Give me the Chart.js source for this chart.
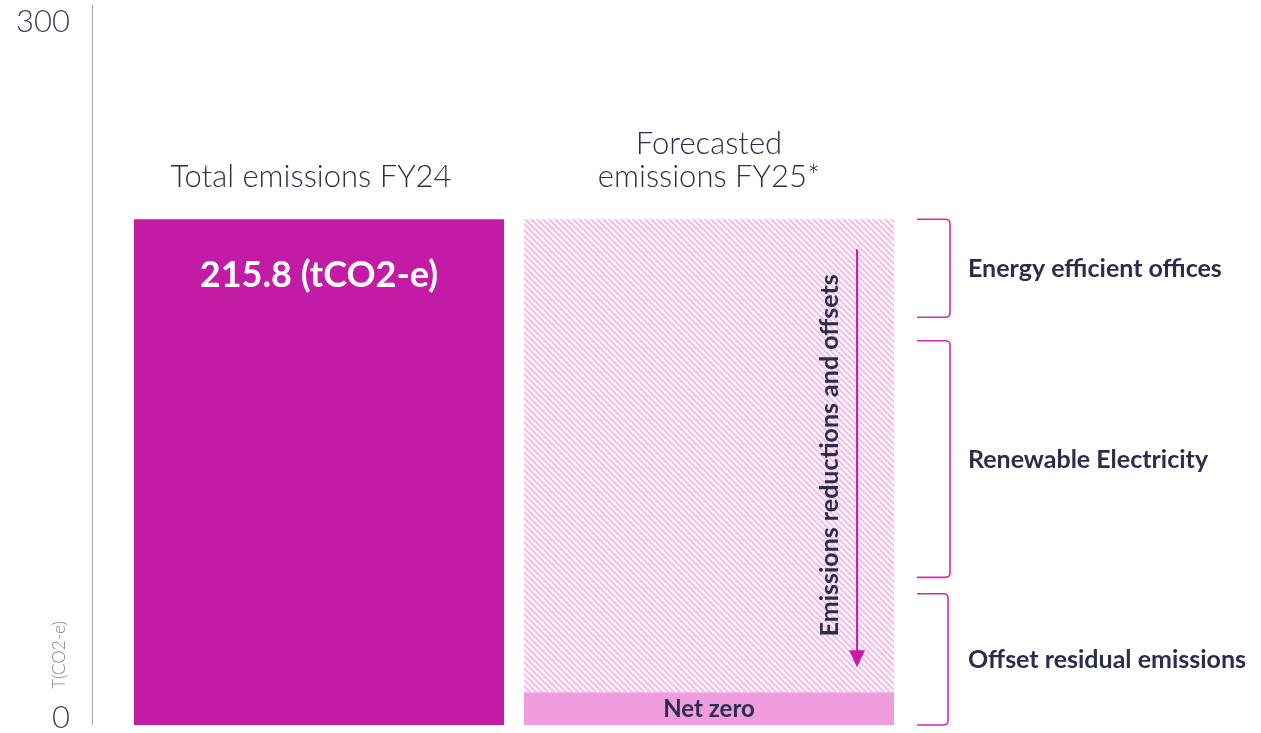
<!DOCTYPE html>
<html lang="en">
<head>
  <meta charset="UTF-8">
  <title>Emissions FY24 / FY25</title>
  <style>
    * {box-sizing:border-box;margin:0;padding:0;}
    body {background:#fff;width:1261px;height:733px;overflow:hidden;}
    .wrap {position:relative;width:1261px;height:733px;}
  </style>
</head>
<body>
  <div class="wrap"><canvas id="emChart" width="1261" height="733"></canvas></div>
  <script src="https://cdn.jsdelivr.net/npm/chart.js@4.4.1/dist/chart.umd.min.js"></script>
  <script>
    // chart data
    const categories = [['Total emissions FY24'], ['Forecasted', 'emissions FY25*']];
    const totalValues = [215.8, null];
    const netZeroValues = [null, [0, 14]];
    const forecastValues = [null, [14, 215.8]];
    const yTicks = [0, 300];
    const yTitle = 'T(CO2-e)';
    const totalLabel = '215.8 (tCO2-e)';
    const netZeroLabel = 'Net zero';
    const arrowLabel = 'Emissions reductions and offsets';
    const arrowRange = [203, 24.6];
    const bracketLabels = ['Energy efficient offices', 'Renewable Electricity', 'Offset residual emissions'];
    const bracketFrom = [215.8, 164, 56];
    const bracketTo = [174, 63, 0];

    const MAGENTA = '#c21ca6';
    const NAVY = '#2b2d4f';
    const LIGHT = "'Lato', 'Open Sans', sans-serif";
    const BOLD = "'Lato', sans-serif";

    function hatch(){
      const c = document.createElement('canvas');
      c.width = 6; c.height = 6;
      const x = c.getContext('2d');
      x.fillStyle = '#ffffff'; x.fillRect(0,0,6,6);
      x.strokeStyle = '#f7c1ec'; x.lineWidth = 2.6;
      x.beginPath();
      x.moveTo(-3,-3); x.lineTo(9,9);
      x.moveTo(-3,3); x.lineTo(3,9);
      x.moveTo(3,-3); x.lineTo(9,3);
      x.stroke();
      return x.createPattern(c,'repeat');
    }

    const decor = {
      id:'decor',
      beforeDatasetsDraw(chart){
        const {ctx, chartArea} = chart;
        // axis line
        ctx.save();
        ctx.strokeStyle = '#a8a8a8'; ctx.lineWidth = 1;
        ctx.beginPath();
        ctx.moveTo(92.5, chartArea.top - 17); ctx.lineTo(92.5, chartArea.bottom);
        ctx.stroke();
        // y title
        ctx.translate(60, chartArea.bottom - 70);
        ctx.rotate(-Math.PI/2);
        ctx.fillStyle = '#7d8098';
        ctx.font = "300 17px " + LIGHT;
        ctx.textAlign = 'center'; ctx.textBaseline = 'middle';
        ctx.fillText(yTitle, 0, 0);
        ctx.restore();
      },
      afterDatasetsDraw(chart){
        const {ctx, chartArea, scales:{x, y}} = chart;
        const bar0 = chart.getDatasetMeta(0).data[0];
        const bar1 = chart.getDatasetMeta(1).data[1];
        const bar2 = chart.getDatasetMeta(2).data[1];
        ctx.save();
        // category titles above bars
        ctx.fillStyle = NAVY;
        ctx.font = "300 31px " + LIGHT;
        ctx.textAlign = 'center'; ctx.textBaseline = 'middle';
        categories.forEach((lines, i) => {
          const cx = x.getPixelForValue(i) - (i === 0 ? 8 : 0);
          const topY = y.getPixelForValue(i === 0 ? totalValues[0] : forecastValues[1][1]);
          lines.forEach((t, j) => {
            ctx.fillText(t, cx, topY - 42 - (lines.length - 1 - j) * 33);
          });
        });
        // value label inside first bar
        ctx.fillStyle = '#ffffff';
        ctx.font = "bold 36px " + BOLD;
        ctx.fillText(totalLabel, bar0.x, bar0.y + 56);
        // net zero label
        ctx.fillStyle = NAVY;
        ctx.font = "bold 24px " + BOLD;
        ctx.fillText(netZeroLabel, bar1.x, (bar1.y + bar1.base) / 2 + 1);
        // arrow
        const ax = bar2.x + bar2.width / 2 - 37;
        const ay1 = y.getPixelForValue(arrowRange[0]);
        const ay2 = y.getPixelForValue(arrowRange[1]);
        ctx.strokeStyle = MAGENTA; ctx.lineWidth = 2;
        ctx.beginPath(); ctx.moveTo(ax, ay1); ctx.lineTo(ax, ay2 - 14); ctx.stroke();
        ctx.fillStyle = MAGENTA;
        ctx.beginPath();
        ctx.moveTo(ax - 8, ay2 - 17); ctx.lineTo(ax + 8, ay2 - 17); ctx.lineTo(ax, ay2);
        ctx.closePath(); ctx.fill();
        ctx.save();
        ctx.translate(ax - 27, (ay1 + ay2) / 2 - 3);
        ctx.rotate(-Math.PI/2);
        ctx.fillStyle = NAVY;
        ctx.font = "bold 25px " + BOLD;
        ctx.fillText(arrowLabel, 0, 0);
        ctx.restore();
        // brackets
        const bx0 = chartArea.right + 13, bx1 = chartArea.right + 46;
        ctx.strokeStyle = '#d12bb8'; ctx.lineWidth = 1.6;
        bracketLabels.forEach((lab, i) => {
          const t = y.getPixelForValue(bracketFrom[i]);
          const b = y.getPixelForValue(bracketTo[i]);
          const vx = bx1 - (i === 2 ? 2 : 0);
          ctx.beginPath();
          ctx.moveTo(bx0, t);
          ctx.lineTo(vx - 5, t);
          ctx.quadraticCurveTo(vx, t, vx, t + 4);
          ctx.lineTo(vx, b - 4);
          ctx.quadraticCurveTo(vx, b, vx - 5, b);
          ctx.lineTo(bx0, b);
          ctx.stroke();
          ctx.fillStyle = NAVY;
          ctx.font = "bold 25px " + BOLD;
          ctx.textAlign = 'left';
          ctx.fillText(lab, chartArea.right + 64, (t + b) / 2 + 1);
        });
        ctx.restore();
      }
    };

    const ctx = document.getElementById('emChart').getContext('2d');
    new Chart(ctx, {
      type:'bar',
      data:{
        labels:categories,
        datasets:[
          {label:'Total', data:totalValues, backgroundColor:MAGENTA},
          {label:'Net zero', data:netZeroValues, backgroundColor:'#f09de0'},
          {label:'Forecast', data:forecastValues, backgroundColor:hatch()}
        ]
      },
      options:{
        responsive:false,
        animation:false,
        layout:{padding:{top:22, right:357, bottom:8, left:0}},
        datasets:{bar:{categoryPercentage:1, barPercentage:0.949, borderWidth:0}},
        plugins:{legend:{display:false}, tooltip:{enabled:false}},
        scales:{
          x:{display:false, stacked:true},
          y:{
            min:yTicks[0], max:yTicks[1],
            afterBuildTicks(scale){ scale.ticks = yTicks.map(v => ({value:v})); },
            afterFit(scale){ scale.width = 124; scale.paddingTop = 0; scale.paddingBottom = 0; },
            grid:{display:false, drawTicks:false},
            border:{display:false},
            ticks:{
              padding:54, color:'#3b3f63',
              font:{family:LIGHT, size:31, weight:'300', lineHeight:0.45},
              // lift the bottom "0" a little so it sits inside the canvas
              callback:(v) => v === 0 ? ['0', ''] : String(v)
            }
          }
        }
      },
      plugins:[decor]
    });
  </script>
</body>
</html>
